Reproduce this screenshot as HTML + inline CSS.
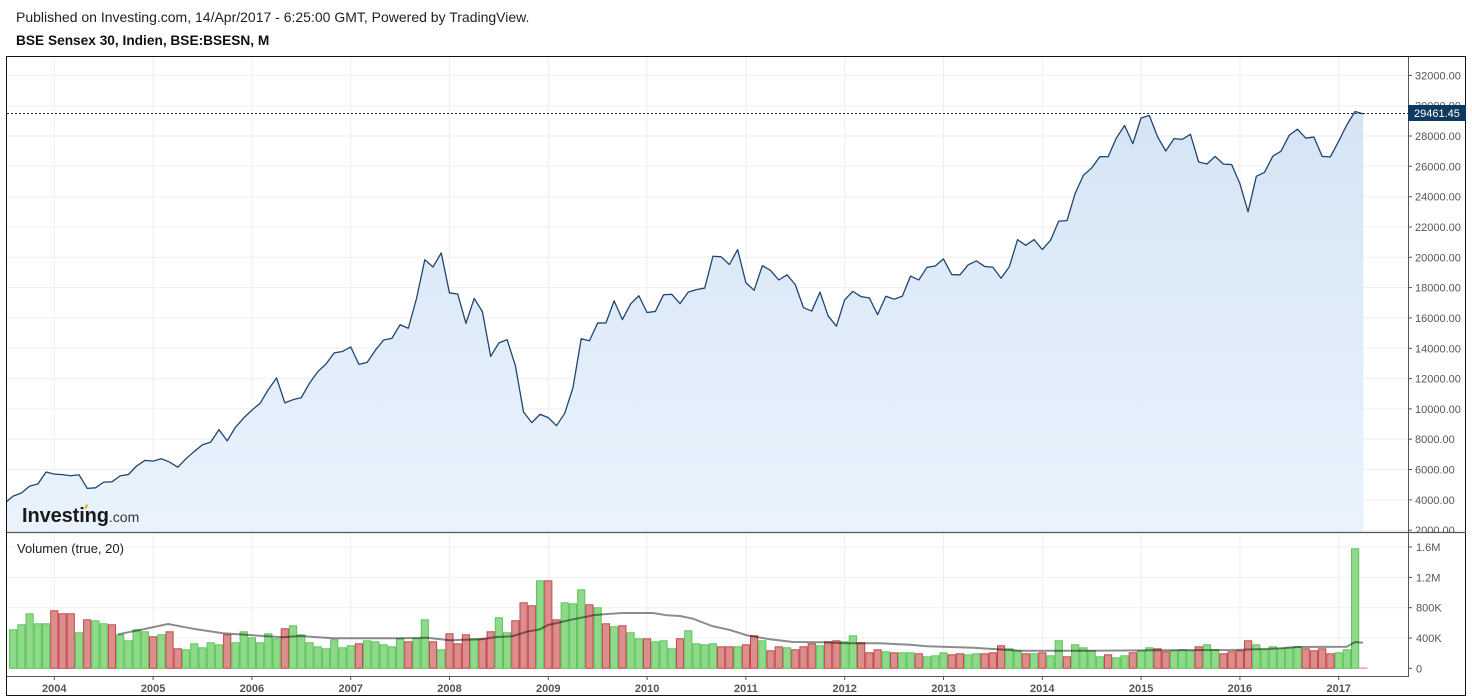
<!DOCTYPE html>
<html>
<head>
<meta charset="utf-8">
<style>
  html,body{margin:0;padding:0;background:#fff;}
  body{width:1472px;height:700px;overflow:hidden;font-family:"Liberation Sans",Arial,sans-serif;}
  svg{display:block;}
  text{font-family:"Liberation Sans",Arial,sans-serif;}
</style>
</head>
<body>
<svg id="c" width="1472" height="700" viewBox="0 0 1472 700" xmlns="http://www.w3.org/2000/svg">
  <defs>
    <linearGradient id="fg" gradientUnits="userSpaceOnUse" x1="0" y1="110" x2="0" y2="532">
      <stop offset="0" stop-color="#d5e4f4"/>
      <stop offset="1" stop-color="#eaf3fd"/>
    </linearGradient>
    <clipPath id="pclip"><rect x="7" y="57" width="1401" height="475"/></clipPath>
    <clipPath id="vclip"><rect x="7" y="533" width="1401" height="143"/></clipPath>
    <clipPath id="aclip"><rect x="1409" y="57" width="57" height="475"/></clipPath>
  </defs>
  <rect x="0" y="0" width="1472" height="700" fill="#fff"/>

  <text x="16" y="22" font-size="14" fill="#222">Published on Investing.com, 14/Apr/2017 - 6:25:00 GMT, Powered by TradingView.</text>
  <text x="16" y="45" font-size="13.7" font-weight="bold" fill="#111">BSE Sensex 30, Indien, BSE:BSESN, M</text>

  <g id="grid"></g>
  <g id="price" clip-path="url(#pclip)"></g>
  <g id="vol" clip-path="url(#vclip)"></g>

  <!-- logo -->
  <text x="22" y="522" font-size="20" font-weight="bold" fill="#1a1a1a" letter-spacing="-0.1">Investing<tspan font-size="14" font-weight="normal" fill="#333" letter-spacing="0">.com</tspan></text>
  <polygon points="84,508.5 86,504.5 88.5,504.5 86.5,508.5" fill="#f5a623"/>

  <text x="17" y="553" font-size="13" fill="#222">Volumen (true, 20)</text>

  <g id="axes"></g>

  <!-- price axis labels -->
  <g clip-path="url(#aclip)" font-size="11" fill="#555">
    <text x="1415" y="79.4">32000.00</text>
    <text x="1415" y="109.7">30000.00</text>
    <text x="1415" y="140.0">28000.00</text>
    <text x="1415" y="170.3">26000.00</text>
    <text x="1415" y="200.7">24000.00</text>
    <text x="1415" y="231.0">22000.00</text>
    <text x="1415" y="261.3">20000.00</text>
    <text x="1415" y="291.6">18000.00</text>
    <text x="1415" y="322.0">16000.00</text>
    <text x="1415" y="352.3">14000.00</text>
    <text x="1415" y="382.6">12000.00</text>
    <text x="1415" y="412.9">10000.00</text>
    <text x="1415" y="443.2">8000.00</text>
    <text x="1415" y="473.6">6000.00</text>
    <text x="1415" y="503.9">4000.00</text>
    <text x="1415" y="534.2">2000.00</text>
  </g>
  <rect x="1408" y="105" width="58" height="16" fill="#0f3a5f"/>
  <text x="1414" y="117" font-size="11" fill="#fff">29461.45</text>

  <!-- volume axis labels -->
  <g font-size="11" fill="#555">
    <text x="1416" y="551">1.6M</text>
    <text x="1416" y="581.4">1.2M</text>
    <text x="1416" y="611.7">800K</text>
    <text x="1416" y="642">400K</text>
    <text x="1416" y="672.3">0</text>
  </g>

  <!-- time axis labels -->
  <g font-size="11" font-weight="bold" fill="#555" text-anchor="middle">
    <text x="54.3" y="692">2004</text>
    <text x="153.1" y="692">2005</text>
    <text x="251.9" y="692">2006</text>
    <text x="350.7" y="692">2007</text>
    <text x="449.5" y="692">2008</text>
    <text x="548.3" y="692">2009</text>
    <text x="647.1" y="692">2010</text>
    <text x="745.9" y="692">2011</text>
    <text x="844.7" y="692">2012</text>
    <text x="943.5" y="692">2013</text>
    <text x="1042.3" y="692">2014</text>
    <text x="1141.1" y="692">2015</text>
    <text x="1239.9" y="692">2016</text>
    <text x="1338.7" y="692">2017</text>
  </g>
</svg>
<script>
(function(){
var P=[3792,4245,4453,4906,5044,5839,
5696,5667,5591,5655,4760,4795,5170,5192,5584,5672,6234,6603,
6556,6714,6493,6154,6715,7194,7636,7806,8634,7892,8789,9398,
9920,10370,11280,12043,10399,10609,10744,11699,12454,12962,13697,13787,
14091,12938,13072,13872,14544,14651,15551,15319,17291,19838,19363,20287,
17649,17579,15644,17287,16416,13462,14356,14565,12860,9788,9093,9647,
9424,8892,9709,11403,14625,14494,15670,15667,17127,15896,16926,17465,
16358,16430,17528,17559,16945,17701,17868,17971,20069,20032,19521,20509,
18328,17823,19445,19136,18503,18846,18197,16677,16454,17705,16123,15455,
17194,17753,17404,17319,16219,17430,17236,17430,18763,18505,19340,19427,
19895,18862,18836,19504,19760,19396,19346,18620,19380,21165,20792,21171,
20514,21120,22386,22418,24217,25414,25895,26638,26631,27866,28694,27499,
29183,29362,27957,27011,27828,27781,28115,26283,26155,26657,26146,26118,
24871,23002,25342,25607,26668,26999,28052,28452,27866,27930,26653,26626,
27656,28743,29621,29461.45];
var V="g39 g44 g55 g45 g45 r58 r55 r55 g36 r49 g48 g45 r44 g34 g28 g39 g37 r32 g34 r37 r20 g19 g25 g21 g26 g24 r34 g26 g37 g31 g26 g35 g30 r40 g43 g34 g26 g22 g20 g29 g21 g23 r25 g28 g27 g24 g22 g30 r27 g30 g49 r27 g19 r35 r25 r34 g30 r30 r37 g51 g36 r48 r66 r63 g88 r88 r49 g66 g65 g79 r64 g61 r45 g42 r43 g36 g30 r30 g27 g28 g20 r30 g38 g25 g24 g25 r22 r22 g22 r24 r33 g28 r18 r22 g21 r19 r22 r25 g23 r27 r28 g27 g33 r26 r16 r19 g17 r16 g16 g16 r15 g12 g13 g16 r14 r15 g14 g15 r15 r16 r23 g20 g18 r15 g15 r16 g13 g28 r12 g24 g21 g18 g12 r14 g11 g13 r16 g18 g21 r20 r17 g18 g19 g18 r22 g24 g19 r15 r17 r18 r28 g24 g19 g22 g20 g21 g22 r20 r18 r20 r15 g16 g19 g120 r0".split(" ");
var MA=[[118,634.3],[140,630],[168,624],[193,628.7],[223,633.3],[253,635.3],[283,637.3],[300,636],[333,638.3],[350,638.3],[400,638.3],[427,637.7],[450,640.3],[480,639.3],[497,637],[512,636.3],[527,631.7],[540,629.3],[548,625],[573,619.3],[593,615.3],[607,614],[623,613],[653,613],[667,615.3],[680,616],[693,618.7],[712,626],[730,630],[747,635.3],[770,639.3],[793,642],[823,642.3],[847,643.3],[880,643.3],[910,644.7],[927,646.3],[973,647.7],[997,649.3],[1020,650.7],[1087,650.7],[1153,650.3],[1233,650],[1273,648.7],[1297,647],[1347,646.7],[1355,642],[1363,642.7]];
function X(k){return 4.9+k*8.233;}
function Y(v){return 257.3-(v-20000)*0.01516;}
var g='';
for(var v=2000;v<=32000;v+=2000){var y=Y(v).toFixed(1);g+='<line x1="7" x2="1408" y1="'+y+'" y2="'+y+'" stroke="#efefef" stroke-width="1"/>';}
[547,577.4,607.7,638].forEach(function(y){g+='<line x1="7" x2="1408" y1="'+y+'" y2="'+y+'" stroke="#efefef" stroke-width="1"/>';});
for(var n=0;n<14;n++){var x=(54.3+n*98.8).toFixed(1);g+='<line x1="'+x+'" x2="'+x+'" y1="57" y2="676" stroke="#efefef" stroke-width="1"/>';}
document.getElementById('grid').innerHTML=g;

var d='';
for(var k=0;k<P.length;k++){d+=(k?'L':'M')+X(k).toFixed(2)+' '+Y(P[k]).toFixed(2);}
var last=X(P.length-1).toFixed(2);
var p='<path d="'+d+' L'+last+' 532 L'+X(0).toFixed(2)+' 532 Z" fill="url(#fg)"/>';
p+='<path d="'+d+'" fill="none" stroke="#1f4672" stroke-width="1.3" stroke-linejoin="round"/>';
p+='<line x1="7" x2="1408" y1="113.5" y2="113.5" stroke="#0b2e50" stroke-width="1" stroke-dasharray="2,2"/>';
document.getElementById('price').innerHTML=p;

var b='';
for(var i=0;i<V.length;i++){
  var k=i+1, c=V[i][0], h=parseFloat(V[i].slice(1));
  var cx=X(k), x0=(cx-4.1).toFixed(2);
  if(h<=0){b+='<rect x="'+x0+'" y="667.5" width="8.2" height="1.2" fill="#e08a8a"/>';continue;}
  var fill=c=='g'?'#8fd98a':'#dc8e8e', st=c=='g'?'#5cc45a':'#c24848';
  b+='<rect x="'+(cx-3.6).toFixed(2)+'" y="'+(668.3-h+0.5).toFixed(2)+'" width="7.2" height="'+(h-0.5).toFixed(2)+'" fill="'+fill+'" stroke="'+st+'" stroke-width="1"/>';
}
var m='M'+MA.map(function(q){return q[0]+' '+q[1];}).join(' L');
b+='<path d="'+m+'" fill="none" stroke="#000" stroke-opacity="0.45" stroke-width="2" stroke-linejoin="round"/>';
document.getElementById('vol').innerHTML=b;

var a='';
a+='<rect x="6.5" y="56.5" width="1459" height="639" fill="none" stroke="#111" stroke-width="1"/>';
a+='<line x1="7" x2="1466" y1="532.5" y2="532.5" stroke="#555" stroke-width="1.2"/>';
a+='<line x1="1408.5" x2="1408.5" y1="57" y2="677" stroke="#555" stroke-width="1"/>';
a+='<line x1="7" x2="1409" y1="676.5" y2="676.5" stroke="#555" stroke-width="1"/>';
for(var v=2000;v<=32000;v+=2000){var y=Y(v);if(y<532){a+='<line x1="1408" x2="1412" y1="'+y.toFixed(1)+'" y2="'+y.toFixed(1)+'" stroke="#555"/>';}}
[547,577.4,607.7,638,668.3].forEach(function(y){a+='<line x1="1408" x2="1412" y1="'+y+'" y2="'+y+'" stroke="#555"/>';});
for(var n=0;n<14;n++){var x=(54.3+n*98.8).toFixed(1);a+='<line x1="'+x+'" x2="'+x+'" y1="677" y2="680" stroke="#555"/>';}
document.getElementById('axes').innerHTML=a;
})();
</script>
</body>
</html>
